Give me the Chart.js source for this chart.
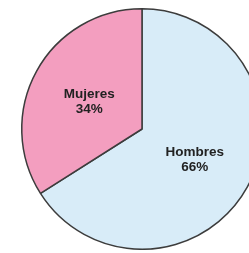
<!DOCTYPE html>
<html>
<head>
<meta charset="utf-8">
<script src="https://cdn.jsdelivr.net/npm/chart.js@4.4.0/dist/chart.umd.min.js"></script>
<style>
  html, body { margin: 0; padding: 0; background: #fff; overflow: hidden; width: 249px; height: 253px; }
  #wrap { position: absolute; left: 0; top: 8px; width: 284px; height: 242px; }
</style>
</head>
<body>
<div id="wrap"><canvas id="grafico"></canvas></div>
<script>
// datos del gráfico
const categorias = ['Hombres', 'Mujeres'];
const porcentajes = [66, 34];
const colores = ['#d8ecf8', '#f39ebf'];

// dibuja nombre + porcentaje dentro de cada sector
const etiquetasPlugin = {
  id: 'etiquetas',
  afterDatasetsDraw(chart) {
    const ctx = chart.ctx;
    const meta = chart.getDatasetMeta(0);
    ctx.save();
    ctx.fillStyle = '#222';
    ctx.font = 'bold 13.5px "Liberation Sans", Arial, sans-serif';
    ctx.textAlign = 'center';
    ctx.textBaseline = 'middle';
    meta.data.forEach(function(arc, i) {
      const pos = arc.tooltipPosition();
      ctx.fillText(categorias[i], pos.x, pos.y - 6);
      ctx.fillText(porcentajes[i] + '%', pos.x, pos.y + 9);
    });
    ctx.restore();
  }
};

new Chart(document.getElementById('grafico'), {
  type: 'pie',
  data: {
    labels: categorias,
    datasets: [{
      data: porcentajes,
      backgroundColor: colores,
      borderColor: '#3c3c3c',
      borderWidth: 1.5
    }]
  },
  options: {
    responsive: true,
    maintainAspectRatio: false,
    animation: false,
    layout: { padding: 0 },
    plugins: {
      legend: { display: false },
      tooltip: { enabled: false }
    }
  },
  plugins: [etiquetasPlugin]
});
</script>
</body>
</html>
